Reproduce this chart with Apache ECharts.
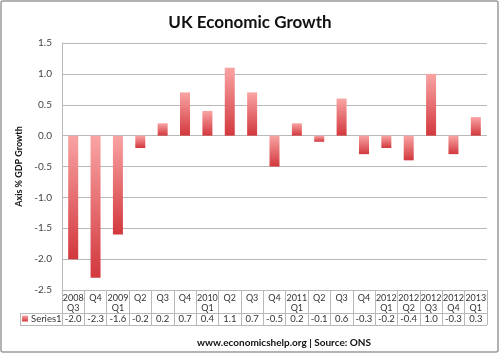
<!DOCTYPE html>
<html><head><meta charset="utf-8">
<script src="https://cdn.jsdelivr.net/npm/echarts@6/dist/echarts.min.js"></script>
<style>html,body{margin:0;padding:0;background:#fff}#c{width:500px;height:355px}</style>
</head><body><div id="c"></div>
<script>
const categories = ['2008\nQ3','Q4','2009\nQ1','Q2','Q3','Q4','2010\nQ1','Q2','Q3','Q4','2011\nQ1','Q2','Q3','Q4','2012\nQ1','2012\nQ2','2012\nQ3','2012\nQ4','2013\nQ1'];
const values = [-2.0,-2.3,-1.6,-0.2,0.2,0.7,0.4,1.1,0.7,-0.5,0.2,-0.1,0.6,-0.3,-0.2,-0.4,1.0,-0.3,0.3];
const yTicks = {min:-2.5, max:1.5, interval:0.5};
const seriesName = 'Series1';
const titleText = 'UK Economic Growth';
const yAxisTitle = 'Axis % GDP Growth';
const footer = 'www.economicshelp.org | Source: ONS';

const FONT = 'Lato, "Open Sans", sans-serif';
const LINE = '#b8b8b8';
const chart = echarts.init(document.getElementById('c'), null, {renderer:'canvas'});
chart.setOption({
  animation:false,
  textStyle:{fontFamily:FONT},
  title:{text:titleText,left:'center',top:9,textStyle:{fontFamily:FONT,fontSize:17,fontWeight:'bold',color:'#111'}},
  grid:{left:62,right:13,top:43,bottom:65,containLabel:false},
  legend:{data:[seriesName],left:22,top:313.5,itemWidth:6,itemHeight:6,itemGap:2,padding:0,
    textStyle:{fontFamily:FONT,fontSize:9.5,color:'#333',padding:[0,0,0,-2]},icon:'rect'},
  yAxis:{type:'value',min:yTicks.min,max:yTicks.max,interval:yTicks.interval,
    name:yAxisTitle,nameLocation:'middle',nameRotate:90,nameGap:34,
    nameTextStyle:{fontFamily:FONT,fontSize:9,fontWeight:'bold',color:'#111'},
    axisLine:{show:true,lineStyle:{color:LINE}},axisTick:{show:false},
    axisLabel:{formatter:v=>v.toFixed(1),fontSize:10,color:'#444',margin:10},
    splitLine:{lineStyle:{color:LINE}}},
  xAxis:[
    {type:'category',data:categories,position:'bottom',
     axisLine:{onZero:false,lineStyle:{color:LINE}},
     axisTick:{show:true,interval:0,length:35,alignWithLabel:false,lineStyle:{color:LINE}},
     axisLabel:{interval:0,fontSize:9,color:'#333',lineHeight:10.5,margin:2.5}},
    {type:'category',data:values.map(v=>v.toFixed(1)),position:'bottom',offset:23,
     axisLine:{show:true,onZero:false,lineStyle:{color:LINE}},axisTick:{show:false},
     axisLabel:{interval:0,fontSize:9.5,color:'#333',margin:1}}
  ],
  series:[{name:seriesName,type:'bar',data:values,barWidth:10,xAxisIndex:0,
    itemStyle:{color:new echarts.graphic.LinearGradient(0,0,0,1,[{offset:0,color:'#f9a4a4'},{offset:1,color:'#d2383d'}])}}],
  graphic:[
    {type:'rect',shape:{x:1,y:1,width:497,height:351,r:2},style:{fill:null,stroke:'#9a9a9a',lineWidth:1.5},silent:true},
    {type:'line',shape:{x1:20,y1:313.5,x2:62,y2:313.5},style:{stroke:LINE,lineWidth:1}},
    {type:'line',shape:{x1:20,y1:325.5,x2:487,y2:325.5},style:{stroke:LINE,lineWidth:1}},
    {type:'line',shape:{x1:20.5,y1:313.5,x2:20.5,y2:325.5},style:{stroke:LINE,lineWidth:1}},
    {type:'text',left:197,top:338,style:{text:footer,fontFamily:FONT,fontSize:10,fontWeight:'bold',fill:'#111'}}
  ]
});
</script></body></html>
